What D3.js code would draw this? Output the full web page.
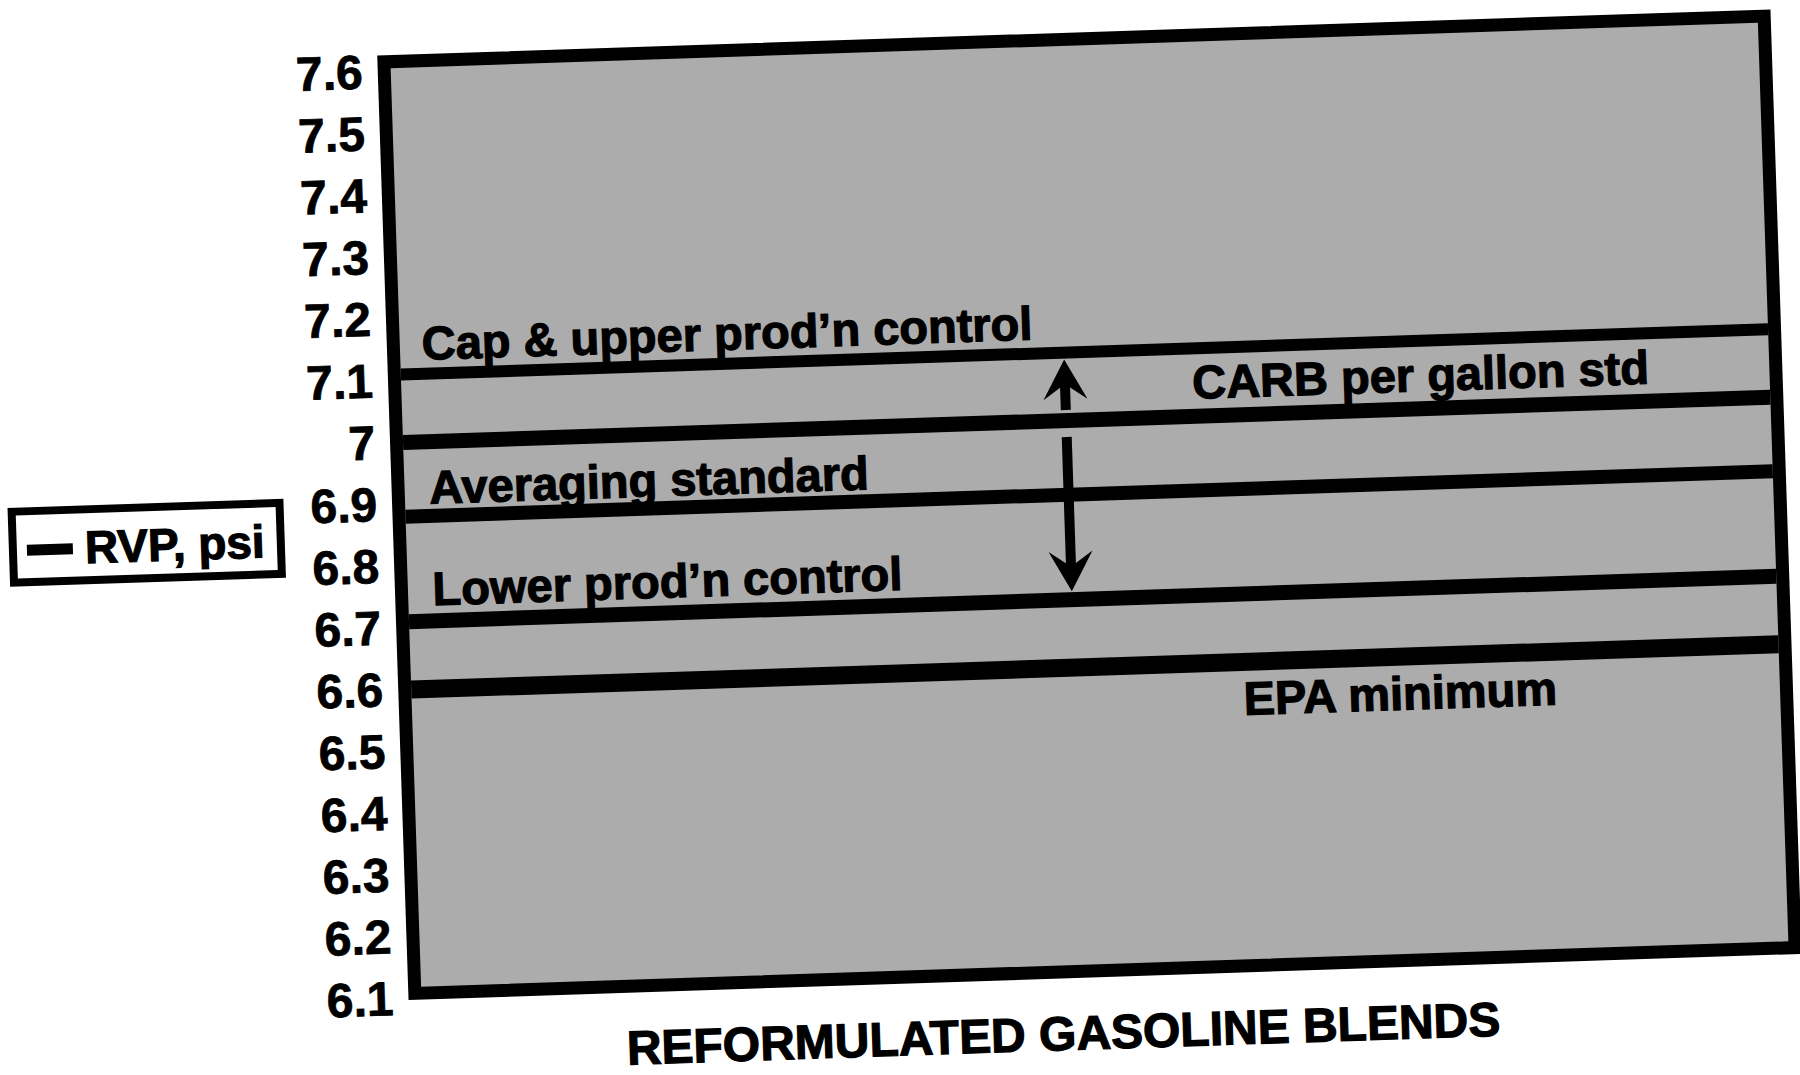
<!DOCTYPE html>
<html>
<head>
<meta charset="utf-8">
<script src="https://cdn.jsdelivr.net/npm/d3@7"></script>
<style>
  html, body { margin: 0; padding: 0; background: #fff; }
  svg { display: block; }
  .tick text { font-family: "Liberation Sans", Arial, Helvetica, sans-serif; font-weight: bold; }
  .note { font-family: "Liberation Sans", Arial, Helvetica, sans-serif; font-weight: bold; fill: #000; stroke: #000; stroke-width: 1.2; }
</style>
</head>
<body>
<div id="chart"></div>
<script>
// Y axis tick values (psi).
const yTicks = [6.1, 6.2, 6.3, 6.4, 6.5, 6.6, 6.7, 6.8, 6.9, 7.0, 7.1, 7.2, 7.3, 7.4, 7.5, 7.6];

// RVP limit lines, top to bottom.
const levelNames = [
  "Cap & upper prod\u2019n control",
  "CARB per gallon std",
  "Averaging standard",
  "Lower prod\u2019n control",
  "EPA minimum"
];
const levelValues = [7.11, 7.0, 6.88, 6.71, 6.6];

const legendLabel = "RVP, psi";
const xTitle = "REFORMULATED GASOLINE BLENDS";

// Chart geometry (unrotated page frame).
const width = 1800;
const height = 1075;
const frame = { left: 392.5, right: 1786.5, top: 32.25, bottom: 977.25, stroke: 13 };
// The scanned page is tilted a little.
const tilt = { angle: -1.9, cx: 1089.5, cy: 504.75 };

// Per-line styling and label placement (x as a fraction of plot width).
const levelStroke = [12, 15, 14, 15, 18];
const labelPlace = [
  { fx: 0.016, side: "above", gap: 8 },
  { fx: 0.578, side: "above", gap: 10 },
  { fx: 0.018, side: "above", gap: 5 },
  { fx: 0.018, side: "above", gap: 8 },
  { fx: 0.608, side: "below", gap: 44 }
];
const arrowFx = 0.485;

const svg = d3.select("#chart")
  .append("svg")
  .attr("width", width)
  .attr("height", height);

const root = svg.append("g")
  .attr("transform", `rotate(${tilt.angle},${tilt.cx},${tilt.cy})`);

// Scales.
const yScale = d3.scaleLinear()
  .domain([6.1, 7.6])
  .range([976, 49]);

const xScale = d3.scaleLinear()
  .domain([0, 1])
  .range([frame.left + frame.stroke, frame.right - frame.stroke]);

// Plot background.
const half = frame.stroke / 2;
root.append("rect")
  .attr("x", frame.left + half)
  .attr("y", frame.top + half)
  .attr("width", frame.right - frame.left - frame.stroke)
  .attr("height", frame.bottom - frame.top - frame.stroke)
  .attr("fill", "#acacac");

// Limit lines.
root.selectAll("line.level")
  .data(levelValues)
  .enter()
  .append("line")
  .attr("class", "level")
  .attr("x1", xScale(0))
  .attr("x2", xScale(1))
  .attr("y1", (d) => yScale(d))
  .attr("y2", (d) => yScale(d))
  .attr("stroke", "#000")
  .attr("stroke-width", (d, i) => levelStroke[i]);

// Line labels.
root.selectAll("text.label")
  .data(levelNames)
  .enter()
  .append("text")
  .attr("class", "note label")
  .attr("font-size", 47)
  .attr("x", (d, i) => xScale(labelPlace[i].fx))
  .attr("y", (d, i) => {
    const p = labelPlace[i];
    const y = yScale(levelValues[i]);
    const hw = levelStroke[i] / 2;
    return p.side === "above" ? y - hw - p.gap : y + hw + p.gap;
  })
  .text((d) => d);

// Double arrow from the CARB line up to the cap and down to the lower control.
function drawArrow(fromVal, fromW, toVal, toW) {
  const x = xScale(arrowFx);
  const up = toVal > fromVal;
  const dir = up ? -1 : 1;
  const y0 = yScale(fromVal) + dir * (fromW / 2 + (up ? 3 : 9));
  const tip = yScale(toVal) - dir * (toW / 2 + 1);
  root.append("line")
    .attr("x1", x).attr("x2", x)
    .attr("y1", y0).attr("y2", tip - dir * 20)
    .attr("stroke", "#000")
    .attr("stroke-width", 10);
  const head = [[0, 0], [22, 40], [5, 28], [-5, 28], [-22, 40]]
    .map(([dx, dy]) => [x + dx, tip - dir * dy]);
  root.append("path")
    .attr("d", d3.line()(head) + "Z")
    .attr("fill", "#000");
}
drawArrow(levelValues[1], levelStroke[1], levelValues[0], levelStroke[0]);
drawArrow(levelValues[1], levelStroke[1], levelValues[3], levelStroke[3]);

// Frame on top.
root.append("rect")
  .attr("x", frame.left + half)
  .attr("y", frame.top + half)
  .attr("width", frame.right - frame.left - frame.stroke)
  .attr("height", frame.bottom - frame.top - frame.stroke)
  .attr("fill", "none")
  .attr("stroke", "#000")
  .attr("stroke-width", frame.stroke);

// Y axis labels.
const yAxis = root.append("g")
  .attr("transform", `translate(${frame.left},0)`)
  .call(d3.axisLeft(yScale)
    .tickValues(yTicks)
    .tickFormat((d) => String(+d.toFixed(1)))
    .tickSize(0)
    .tickPadding(15));
yAxis.select(".domain").remove();
yAxis.selectAll(".tick text")
  .attr("font-size", 48)
  .attr("fill", "#000")
  .attr("stroke", "#000")
  .attr("stroke-width", 0.8);

// X axis title.
root.append("text")
  .attr("class", "note")
  .attr("font-size", 48)
  .attr("text-anchor", "middle")
  .attr("x", 1046)
  .attr("y", 1049)
  .text(xTitle);

// Legend.
const legend = root.append("g");
legend.append("rect")
  .attr("x", 12)
  .attr("y", 476)
  .attr("width", 268)
  .attr("height", 71)
  .attr("fill", "#fff")
  .attr("stroke", "#000")
  .attr("stroke-width", 8);
legend.append("line")
  .attr("x1", 26).attr("x2", 72)
  .attr("y1", 515).attr("y2", 515)
  .attr("stroke", "#000")
  .attr("stroke-width", 11);
legend.append("text")
  .attr("class", "note")
  .attr("font-size", 46)
  .attr("x", 84)
  .attr("y", 530)
  .text(legendLabel);
</script>
</body>
</html>
